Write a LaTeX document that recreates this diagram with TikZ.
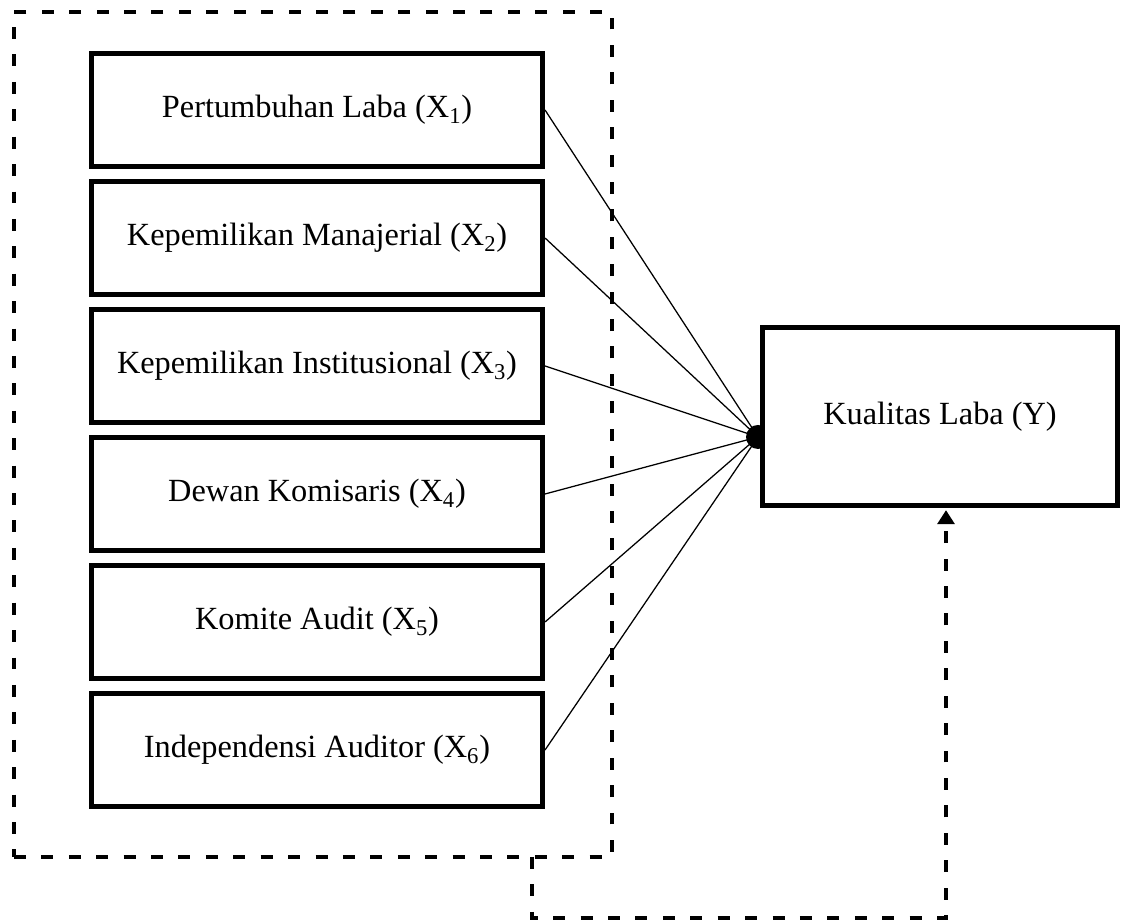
\documentclass[tikz,border=0pt]{standalone}
\usepackage{fontspec}
\setmainfont{Liberation Serif}
\usepackage{xcolor}
\usepackage{tikz}
\usetikzlibrary{arrows.meta}

\tikzset{
    varbox/.style={draw,line width=3.6pt,minimum width=11.275cm,minimum height=2.825cm,font=\fontsize{23}{27}\selectfont},
    ybox/.style={draw,fill=white,line width=3.6pt,minimum width=8.875cm,minimum height=4.45cm,font=\fontsize{23}{27}\selectfont},
    dashline/.style={line width=2.7pt,dash pattern=on 8.5pt off 11pt}
}

\begin{document}
\begin{tikzpicture}
                    \useasboundingbox (0,0) rectangle (28.075,23.075);

                    \node[dashline,draw,minimum width=14.95cm,minimum height=21.125cm] (frame) at (7.825,12.2125) {};

                    \node[varbox] (x1) at (7.925,20.325) {Pertumbuhan Laba (X\textsubscript{1})};
                    \node[varbox] (x2) at (7.925,17.125) {Kepemilikan Manajerial (X\textsubscript{2})};
                    \node[varbox] (x3) at (7.925,13.925) {Kepemilikan Institusional (X\textsubscript{3})};
                    \node[varbox] (x4) at (7.925,10.725) {Dewan Komisaris (X\textsubscript{4})};
                    \node[varbox] (x5) at (7.925,7.525) {Komite Audit (X\textsubscript{5})};
                    \node[varbox] (x6) at (7.925,4.325) {Independensi Auditor (X\textsubscript{6})};

                    \coordinate (hub) at (18.95,12.15);
                    \foreach \i in {1,...,6}
                        \draw[line width=0.9pt] (x\i.east) -- (hub);
                    \fill (hub) circle (0.3);

                    \node[ybox] (y) at (23.5,12.66) {Kualitas Laba (Y)};

                    \coordinate (lo) at (13.3,1.65);
                    \draw[dashline,-{Triangle[width=12pt,length=10pt]}] (lo) -- (13.3,0.125) -- ([xshift=0.15cm]y.south |- 0,0.125) -- ([xshift=0.15cm,yshift=-0.05cm]y.south);
                \end{tikzpicture}
\end{document}
